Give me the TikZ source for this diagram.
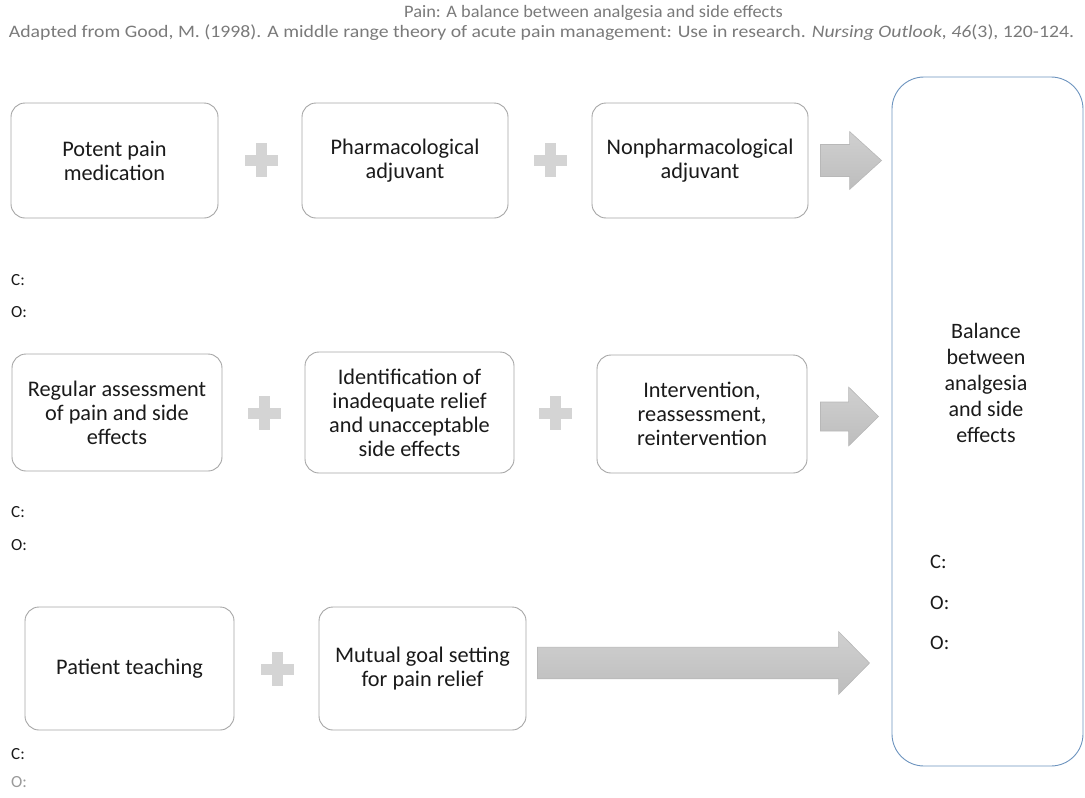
\documentclass[tikz,border=0pt]{standalone}
\usepackage{fontspec}
\setmainfont{Carlito}
\newfontfamily\titlefont[FakeStretch=1.05]{Carlito}
\newfontfamily\subtitlefont[FakeStretch=1.13]{Carlito}
\usetikzlibrary{calc}
\definecolor{titlegray}{HTML}{7A7A7A}
\definecolor{boxborder}{HTML}{A6A6A6}
\definecolor{boxtext}{HTML}{1A1A1A}
\definecolor{plusgray}{HTML}{D4D4D4}
\definecolor{arrowtop}{HTML}{D0D0D0}
\definecolor{arrowbot}{HTML}{BDBDBD}
\definecolor{arrowline}{HTML}{B8B8B8}
\definecolor{bigborder}{HTML}{6C93BE}
\definecolor{lightlabel}{HTML}{9A9A9A}
\newcommand\blockarr[5]{%
  \path[blockarrowstyle] let \p1=(#1), \p2=(#2) in
    (\x1,\y1+#3pt) -- (\x2-#5pt,\y1+#3pt) -- (\x2-#5pt,\y1+#4pt) -- (\x2,\y2)
    -- (\x2-#5pt,\y1-#4pt) -- (\x2-#5pt,\y1-#3pt) -- (\x1,\y1-#3pt) -- cycle;}
\begin{document}
\begin{tikzpicture}[x=1pt,y=-1pt,
  stepbox/.style={draw=boxborder, line width=0.9pt, rounded corners=14pt, fill=white,
    align=center, text=boxtext, inner sep=2pt,
    font=\fontsize{22.3}{24}\selectfont},
  bigbox/.style={draw=bigborder, line width=0.9pt, rounded corners=32pt},
  bigtext/.style={align=center, text=boxtext, font=\fontsize{22}{26}\selectfont},
  colabel/.style={anchor=west, inner sep=0pt, text=boxtext, font=\fontsize{17}{19}\selectfont},
  bigcolabel/.style={anchor=west, inner sep=0pt, text=boxtext, font=\fontsize{20.5}{22}\selectfont},
  titletext/.style={text=titlegray, inner sep=0pt},
  blockarrowstyle/.style={top color=arrowtop, bottom color=arrowbot, draw=arrowline, line width=0.6pt},
  plussign/.pic={\fill[plusgray] (-16.5,-5.5) rectangle (16.5,5.5);
                 \fill[plusgray] (-5.5,-17) rectangle (5.5,17);}
]
\useasboundingbox (0,0) rectangle (1085,798);

% titles
\node[titletext, font=\titlefont\fontsize{17.5}{19}\selectfont] (title) at (593.5,13) {Pain: A balance between analgesia and side effects};
\node[titletext, font=\subtitlefont\fontsize{17.5}{19}\selectfont] (subtitle) at (541.5,33) {Adapted from Good, M. (1998). A middle range theory of acute pain management: Use in research. \textit{Nursing Outlook, 46}(3), 120-124.};

% big box
\node[bigbox, minimum width=191pt, minimum height=689pt] (big) at (987.5,421.5) {};
\node[bigtext] (bigt) at (986,383) {Balance\\between\\analgesia\\and side\\effects};
\node[bigcolabel] (bigc) at (930,562) {C:};
\node[bigcolabel] (bigo1) at (930,603) {O:};
\node[bigcolabel] (bigo2) at (930,643) {O:};

% row 1
\node[stepbox, minimum width=207pt, minimum height=115pt] (b1) at (114.5,160.5) {Potent pain\\medication};
\node[stepbox, minimum width=206pt, minimum height=115pt] (b2) at (405,160.5) {Pharmacological\\adjuvant};
\node[stepbox, minimum width=216pt, minimum height=115pt] (b3) at (700,160.5) {Nonpharmacological\\adjuvant};
\pic (p1) at (261,160) {plussign};
\pic (p2) at (550,160) {plussign};
\node[colabel] (c1) at (11,280) {C:};
\node[colabel] (o1) at (11,312) {O:};

% row 2
\node[stepbox, minimum width=210pt, minimum height=117pt] (b4) at (117,412.5) {Regular assessment\\of pain and side\\effects};
\node[stepbox, minimum width=209pt, minimum height=121pt] (b5) at (409.5,412.5) {Identification of\\inadequate relief\\and unacceptable\\side effects};
\node[stepbox, minimum width=210pt, minimum height=118pt] (b6) at (702,414) {Intervention,\\reassessment,\\reintervention};
\pic (p3) at (264,413) {plussign};
\pic (p4) at (555,413) {plussign};
\node[colabel] (c2) at (11,512) {C:};
\node[colabel] (o2) at (11,545) {O:};

% row 3
\node[stepbox, minimum width=209pt, minimum height=123pt] (b7) at (129.5,668.5) {Patient teaching};
\node[stepbox, minimum width=207pt, minimum height=123pt] (b8) at (422.5,668.5) {Mutual goal setting\\for pain relief};
\pic (p5) at (277,669) {plussign};
\node[colabel] (c3) at (11,754) {C:};
\node[colabel, text=lightlabel] (o3) at (11,782) {O:};

% block arrows
\path (b3.east) ++(12,0) coordinate (s1);
\path (b3.east -| big.west) ++(-10,0) coordinate (t1);
\path (b6.east) ++(13,2.5) coordinate (s2);
\path (b6.east -| big.west) ++(-13,2.5) coordinate (t2);
\path (b8.east) ++(11,-5.5) coordinate (s3);
\path (b8.east -| big.west) ++(-22,-5.5) coordinate (t3);
\blockarr{s1}{t1}{16}{29}{32}
\blockarr{s2}{t2}{14.5}{29.5}{30}
\blockarr{s3}{t3}{15.75}{31.5}{31}
\end{tikzpicture}
\end{document}
